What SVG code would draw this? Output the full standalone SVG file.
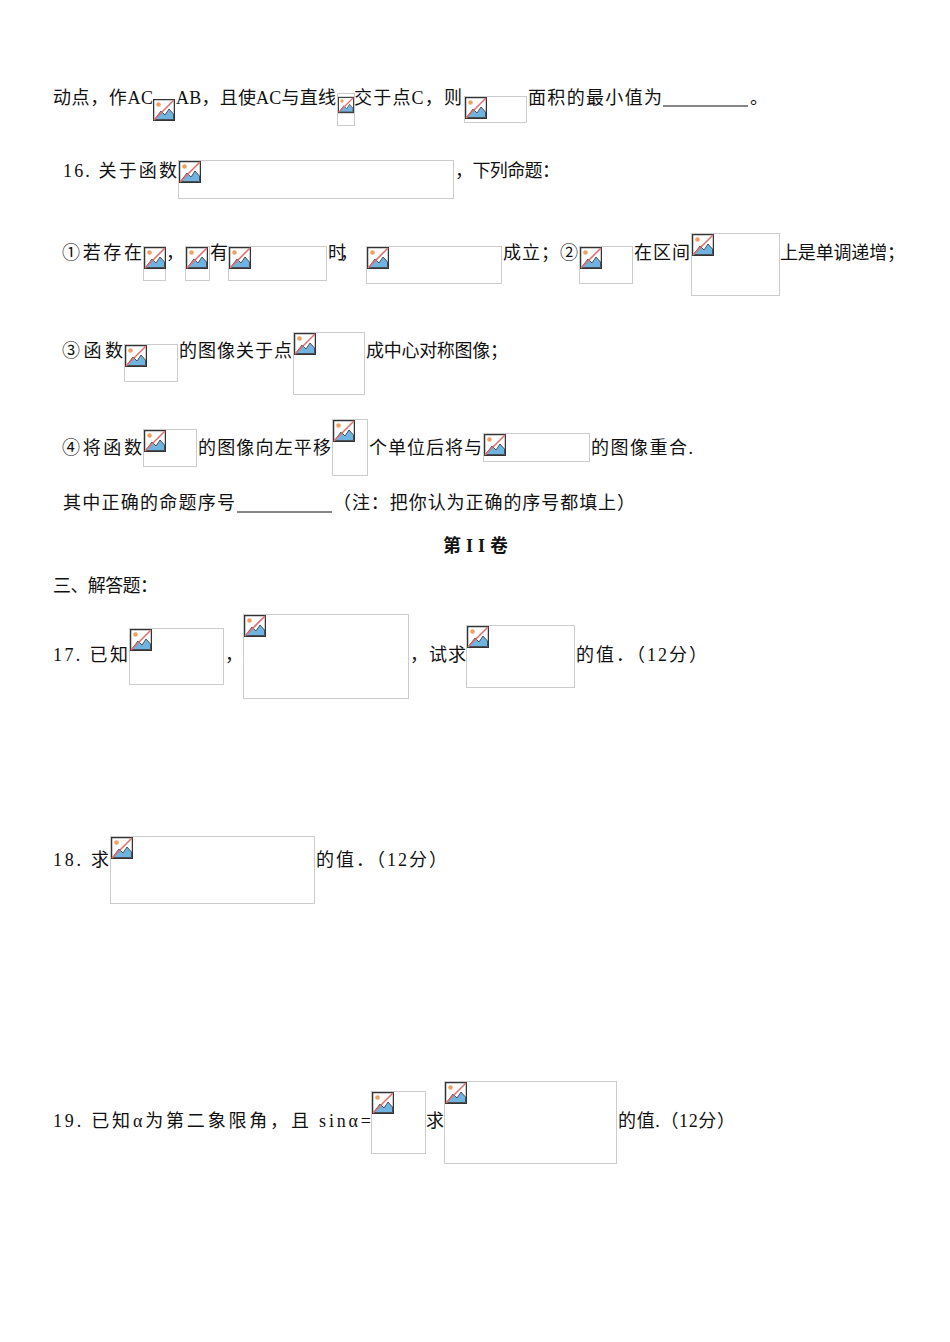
<svg xmlns="http://www.w3.org/2000/svg" xmlns:xlink="http://www.w3.org/1999/xlink" width="950" height="1342" viewBox="0 0 950 1342">
<style>
text{font-family:"Liberation Serif","Noto Sans CJK SC",serif;font-size:18px;fill:#111}
.f{fill:none;stroke:#ccc;stroke-width:1}
.u{stroke:#111;stroke-width:1}
</style>
<defs>
<symbol id="ic" viewBox="0 0 22 22" width="22" height="22">
<rect x="0.5" y="0.5" width="21" height="21" fill="#fff" stroke="#333" stroke-width="1.5"/>
<path d="M1.5 20.5 L8 12 L12 16 L16 10 L20.5 15 L20.5 20.5 Z" fill="#6fb3e0" stroke="#333" stroke-width="0.8"/>
<circle cx="5.5" cy="5.5" r="2.3" fill="#f0a060"/>
<line x1="1" y1="21" x2="21" y2="1" stroke="#e07070" stroke-width="1.6"/>
</symbol>
</defs>
<rect width="950" height="1342" fill="#fff"/>
<g id="frames">
<rect class="f" x="337.5" y="93.5" width="17" height="32"/>
<rect class="f" x="464.5" y="96.5" width="62" height="26"/>
<rect class="f" x="178.5" y="160.5" width="275" height="38"/>
<rect class="f" x="143.5" y="246.5" width="22" height="34"/>
<rect class="f" x="185.5" y="246.5" width="24" height="34"/>
<rect class="f" x="228.5" y="246.5" width="98" height="34"/>
<rect class="f" x="366.5" y="246.5" width="135" height="37"/>
<rect class="f" x="579.5" y="246.5" width="53" height="37"/>
<rect class="f" x="691.5" y="233.5" width="88" height="62"/>
<rect class="f" x="124.5" y="344.5" width="53" height="37"/>
<rect class="f" x="293.5" y="332.5" width="71" height="62"/>
<rect class="f" x="143.5" y="429.5" width="53" height="37"/>
<rect class="f" x="332.5" y="419.5" width="35" height="56"/>
<rect class="f" x="483.5" y="433.5" width="106" height="28"/>
<rect class="f" x="129.5" y="628.5" width="94" height="56"/>
<rect class="f" x="243.5" y="614.5" width="165" height="84"/>
<rect class="f" x="466.5" y="625.5" width="108" height="62"/>
<rect class="f" x="110.5" y="836.5" width="204" height="67"/>
<rect class="f" x="371.5" y="1091.5" width="54" height="62"/>
<rect class="f" x="444.5" y="1081.5" width="172" height="82"/>
</g>
<g id="icons">
<use xlink:href="#ic" x="153" y="99"/>
<use xlink:href="#ic" x="338" y="94" width="16" height="22"/>
<use xlink:href="#ic" x="465" y="97"/>
<use xlink:href="#ic" x="179" y="161"/>
<use xlink:href="#ic" x="144" y="247"/>
<use xlink:href="#ic" x="186" y="247"/>
<use xlink:href="#ic" x="229" y="247"/>
<use xlink:href="#ic" x="367" y="247"/>
<use xlink:href="#ic" x="580" y="247"/>
<use xlink:href="#ic" x="692" y="234"/>
<use xlink:href="#ic" x="125" y="345"/>
<use xlink:href="#ic" x="294" y="333"/>
<use xlink:href="#ic" x="144" y="430"/>
<use xlink:href="#ic" x="333" y="420"/>
<use xlink:href="#ic" x="484" y="434"/>
<use xlink:href="#ic" x="130" y="629"/>
<use xlink:href="#ic" x="244" y="615"/>
<use xlink:href="#ic" x="467" y="626"/>
<use xlink:href="#ic" x="111" y="837"/>
<use xlink:href="#ic" x="372" y="1092"/>
<use xlink:href="#ic" x="445" y="1082"/>
</g>
<g id="texts" lengthAdjust="spacing">
<text x="53" y="104" textLength="100">动点，作AC</text>
<text x="176" y="104" textLength="160">AB，且使AC与直线</text>
<text x="354" y="104" textLength="108">交于点C，则</text>
<text x="528" y="104" textLength="134">面积的最小值为</text>
<line class="u" x1="663" y1="106" x2="748" y2="106"/>
<text x="750" y="104">。</text>
<text x="63" y="177" textLength="114">16. 关于函数</text>
<text x="455" y="177" textLength="105">，下列命题：</text>
<text x="62" y="259" textLength="80">①若存在</text>
<text x="166" y="259">，</text>
<text x="210" y="259">有</text>
<text x="328" y="259" textLength="30">时，</text>
<text x="503" y="259" textLength="75">成立；②</text>
<text x="634" y="259" textLength="56">在区间</text>
<text x="780" y="259" textLength="125">上是单调递增；</text>
<text x="62" y="357" textLength="61">③函数</text>
<text x="179" y="357" textLength="113">的图像关于点</text>
<text x="366" y="357" textLength="142">成中心对称图像；</text>
<text x="62" y="454" textLength="80">④将函数</text>
<text x="198" y="454" textLength="133">的图像向左平移</text>
<text x="369" y="454" textLength="113">个单位后将与</text>
<text x="591" y="454" textLength="102">的图像重合.</text>
<text x="63" y="509" textLength="172">其中正确的命题序号</text>
<line class="u" x1="237" y1="512" x2="332" y2="512"/>
<text x="333" y="509" textLength="302">（注：把你认为正确的序号都填上）</text>
<text x="443" y="552" textLength="65" font-weight="bold">第II卷</text>
<text x="53" y="592" textLength="105">三、解答题：</text>
<text x="53" y="661" textLength="75">17. 已知</text>
<text x="225" y="661">，</text>
<text x="410" y="661" textLength="56">，试求</text>
<text x="576" y="661" textLength="131">的值．（12分）</text>
<text x="53" y="866" textLength="56">18. 求</text>
<text x="316" y="866" textLength="131">的值．（12分）</text>
<text x="53" y="1127" textLength="318">19. 已知α为第二象限角，且 sinα=</text>
<text x="426" y="1127">求</text>
<text x="618" y="1127" textLength="117">的值.（12分）</text>
</g>
</svg>
